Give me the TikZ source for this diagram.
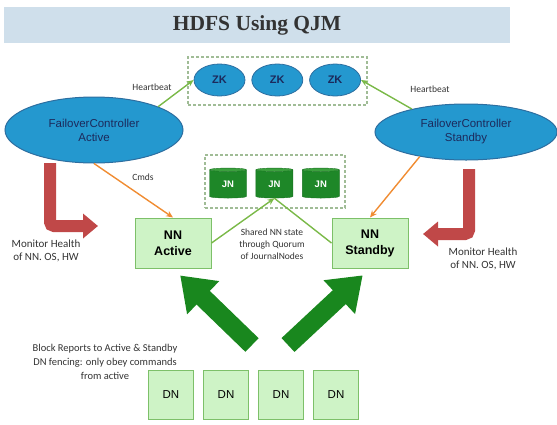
\documentclass[tikz,border=0pt]{standalone}
\usepackage{fontspec}
\setmainfont{Carlito}
\newfontfamily\headfont{Liberation Serif}
\newfontfamily\boxfont{Liberation Sans}
\usetikzlibrary{arrows.meta, shapes.geometric, positioning}

\definecolor{titleblue}{RGB}{207,223,235}
\definecolor{fcblue}{RGB}{36,152,207}
\definecolor{fcedge}{RGB}{45,110,160}
\definecolor{navytext}{RGB}{28,42,92}
\definecolor{groupedge}{RGB}{160,188,150}
\definecolor{hbgreen}{RGB}{122,185,72}
\definecolor{cmdorange}{RGB}{240,140,50}
\definecolor{nnfill}{RGB}{206,243,198}
\definecolor{nnedge}{RGB}{125,192,105}
\definecolor{jngreen}{RGB}{30,135,40}
\definecolor{jntop}{RGB}{60,160,62}
\definecolor{bigreen}{RGB}{25,135,30}
\definecolor{monred}{RGB}{192,72,72}

\pgfkeys{/tikz/.cd,
    overall style/.style={
        x=1pt, y=-1pt,      % pixel units, y grows downward
        >=Stealth,
        node distance=6pt
    },
    fc ellipse/.style={ellipse, fill=fcblue, draw=fcedge, line width=1pt, inner sep=0pt,
        text=navytext, align=center, font=\boxfont\fontsize{11.5}{14}\selectfont},
    zk ellipse/.style={ellipse, fill=fcblue, draw=fcedge, line width=0.8pt, inner sep=0pt,
        minimum width=51pt, minimum height=32pt,
        text=navytext, font=\boxfont\bfseries\fontsize{11}{13}\selectfont},
    group box/.style={draw=groupedge, line width=1.1pt, dash pattern=on 3pt off 2pt, inner sep=0pt},
    nn box/.style={fill=nnfill, draw=nnedge, line width=1pt, minimum width=76pt, minimum height=50pt,
        align=center, font=\boxfont\bfseries\fontsize{12.5}{16}\selectfont},
    jn drum/.style={cylinder, shape border rotate=90, aspect=0.28, draw=jngreen!85!black,
        cylinder uses custom fill, cylinder body fill=jngreen, cylinder end fill=jntop,
        minimum width=37pt, minimum height=30pt, inner sep=0pt,
        text=white, font=\boxfont\bfseries\fontsize{9.5}{11}\selectfont},
    dn box/.style={fill=nnfill, draw=nnedge, line width=1pt, minimum width=45pt, minimum height=49pt,
        font=\boxfont\fontsize{11.5}{13}\selectfont},
    note text/.style={align=center, text=black!80, font=\fontsize{9.5}{12}\selectfont}
}

\begin{document}
\begin{tikzpicture}[overall style]

    \useasboundingbox (0,0) rectangle (557,424);

    % --- 1. title bar ---
    \node[fill=titleblue, minimum width=506pt, minimum height=36pt, text=black!80,
          font=\headfont\bfseries\fontsize{21.5}{24}\selectfont] (title) at (257,25) {HDFS Using QJM};

    % --- 2. ZooKeeper group and failover controllers ---
    \node[group box, minimum width=179pt, minimum height=48pt] (zkgroup) at (277.5,81) {};
    \node[zk ellipse] (zk1) at (219.5,80) {ZK};
    \node[zk ellipse, right=of zk1] (zk2) {ZK};
    \node[zk ellipse, right=of zk2] (zk3) {ZK};

    \node[fc ellipse, minimum width=178pt, minimum height=66pt] (fcActive) at (94,130) {FailoverController\\Active};
    \node[fc ellipse, minimum width=182pt, minimum height=56pt] (fcStandby) at (466,132) {FailoverController\\Standby};

    % --- 3. JournalNodes and NameNodes ---
    \node[group box, minimum width=140pt, minimum height=53pt] (jngroup) at (275,181.5) {};
    \node[jn drum] (jn1) at (228,184) {JN};
    \node[jn drum, right=9pt of jn1] (jn2) {JN};
    \node[jn drum, right=9pt of jn2] (jn3) {JN};

    \node[nn box] (nnActive) at (173,243) {NN\\Active};
    \node[nn box] (nnStandby) at (370,243) {NN\\Standby};

    \foreach \n/\x in {1/171, 2/226, 3/281, 4/336} {
        \node[dn box] (dn\n) at (\x,394.5) {DN};
    }

    % --- 4. thin connectors ---
    \tikzset{thin arrow/.style={line width=1.4pt, -{Stealth[length=7pt,width=6pt]}}}

    \draw[thin arrow, hbgreen] (fcActive.20) -- (zk1.west);
    \draw[thin arrow, hbgreen] (fcStandby.157) -- (zk3.east);
    \node[note text] (hbLeft) at (152,87) {Heartbeat};
    \node[note text] (hbRight) at (430,89) {Heartbeat};

    \draw[thin arrow, cmdorange] (fcActive.south) -- (nnActive.north);
    \draw[thin arrow, cmdorange] (fcStandby.208) -- (nnStandby.north);
    \node[note text] (cmds) at (143,177) {Cmds};

    \draw[thin arrow, hbgreen] (nnActive.east) -- (jn2.south);
    \draw[line width=1.4pt, hbgreen] (jn2.south) -- (nnStandby.west);
    \node[note text] (shared) at (272,244)
        {Shared NN state\\through Quorum\\of JournalNodes};

    % --- 5. health monitoring arrows ---
    \tikzset{mon arrow/.style={monred, line width=12pt, rounded corners=4pt,
        -{Triangle[length=15pt,width=24pt]}}}

    \coordinate (monLtop) at (50,163);
    \coordinate (monLtip) at (98,226);
    \coordinate (monRtop) at (469,169);
    \coordinate (monRtip) at (423,234);

    \draw[mon arrow] (monLtop) |- (monLtip);
    \draw[mon arrow] (monRtop) |- (monRtip);

    \node[note text, font=\fontsize{11}{13}\selectfont] (monLeft) at (46,251) {Monitor Health\\of NN. OS, HW};
    \node[note text, font=\fontsize{11}{13}\selectfont] (monRight) at (483,259) {Monitor Health\\of NN. OS, HW};

    % --- 6. block reports from DataNodes ---
    \tikzset{big arrow/.style={bigreen, line width=19pt, shorten >=10pt,
        -{Triangle[length=32pt,width=44pt]}}}

    \coordinate (brLeft) at (252,345);
    \coordinate (brRight) at (288,345);

    \draw[big arrow] (brLeft) -- (nnActive.south);
    \draw[big arrow] (brRight) -- (nnStandby.south);

    \node[note text, font=\fontsize{10.5}{14}\selectfont] (blockNote) at (105,362)
        {Block Reports to Active \& Standby\\DN fencing: only obey commands\\from active};

\end{tikzpicture}
\end{document}
